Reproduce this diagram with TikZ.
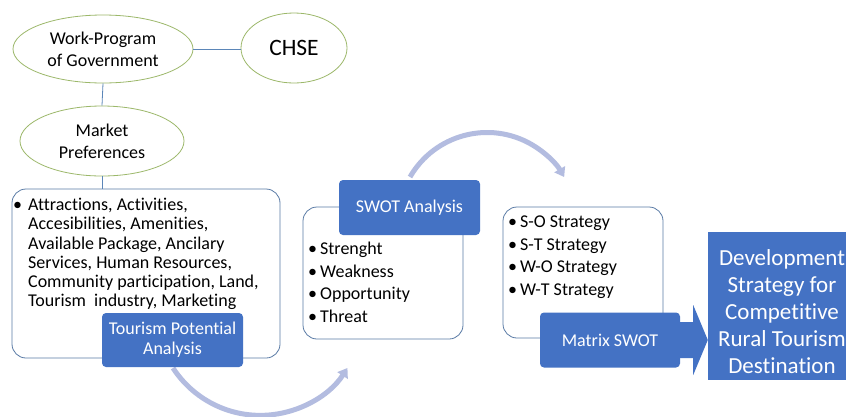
\documentclass[tikz,border=0pt]{standalone}
\usepackage{fontspec}
\setmainfont{Carlito}[Ligatures=NoCommon]
\usetikzlibrary{arrows.meta,shapes.geometric,calc}
\definecolor{blu}{HTML}{4472C4}
\definecolor{edge}{HTML}{5A7BA6}
\definecolor{olivec}{HTML}{9CB86A}
\definecolor{conn}{HTML}{5B86B8}
\definecolor{arcc}{HTML}{B3BCE0}
\begin{document}
\begin{tikzpicture}[x=1pt,y=-1pt,
 oval/.style={ellipse,draw=olivec,line width=0.8pt,fill=white,align=center,inner sep=0pt},
 frame/.style={rectangle,draw=edge,line width=0.8pt,rounded corners=14pt,fill=white,inner sep=0pt},
 head/.style={rectangle,fill=blu,rounded corners=4pt,text=white,align=center,inner sep=0pt,font=\fontsize{18}{20}\selectfont},
 listtext/.style={anchor=north west,inner sep=0pt,align=left},
 link/.style={draw=conn,line width=0.8pt},
 loopy/.style={draw=arcc,line width=5pt,-{Triangle[length=9pt,width=12pt]}},
 ]
\useasboundingbox (0,0) rectangle (846,416);
\fill[white] (0,0) rectangle (846,416);

% curved arrows
\coordinate (a1s) at (173,368);
\draw[loopy] (a1s) arc[start angle=213,end angle=327,radius=104pt];
\coordinate (a2s) at (410,177);
\draw[loopy] (a2s) arc[start angle=150,end angle=30,radius=89pt];

% ellipses
\node[oval,minimum width=180pt,minimum height=68pt,font=\fontsize{18}{22}\selectfont] (work) at (103,49) {Work-Program\\of Government};
\node[oval,minimum width=106pt,minimum height=70pt,font=\fontsize{23.5}{26}\selectfont] (chse) at (294,48) {CHSE};
\node[oval,minimum width=164pt,minimum height=70pt,font=\fontsize{18}{22}\selectfont] (market) at (102,141) {Market\\Preferences};

% box 1
\node[frame,minimum width=268pt,minimum height=169pt] (pot) at (146,273.5) {};
\node[listtext,font=\fontsize{18}{19.2}\selectfont] (potlist) at (13,197) {%
\begin{tabular}{@{}l@{\hspace{6pt}}l@{}}
•&Attractions, Activities,\\
&Accesibilities, Amenities,\\
&Available Package, Ancilary\\
&Services, Human Resources,\\
&Community participation, Land,\\
&Tourism\ \ industry, Marketing
\end{tabular}};
\node[head,minimum width=141pt,minimum height=54pt] (tpa) at (172.5,340) {Tourism Potential\\Analysis};

% box 2
\node[frame,minimum width=160pt,minimum height=132pt] (swotbox) at (383,273) {};
\node[head,minimum width=141pt,minimum height=55pt] (swot) at (409.5,207.5) {SWOT Analysis};
\node[listtext,font=\fontsize{18}{22.5}\selectfont] (swotlist) at (308,239) {%
\begin{tabular}{@{}l@{\hspace{3pt}}l@{}}
•&Strenght\\
•&Weakness\\
•&Opportunity\\
•&Threat
\end{tabular}};

% box 3
\node[frame,minimum width=160pt,minimum height=131pt] (stratbox) at (583,272.5) {};
\node[listtext,font=\fontsize{18}{22.5}\selectfont] (stratlist) at (508,212) {%
\begin{tabular}{@{}l@{\hspace{3pt}}l@{}}
•&S-O Strategy\\
•&S-T Strategy\\
•&W-O Strategy\\
•&W-T Strategy
\end{tabular}};
\node[head,minimum width=140pt,minimum height=55pt] (matrix) at (610,340) {Matrix SWOT};

% final box
\node[rectangle,fill=blu,minimum width=148pt,minimum height=148pt,inner sep=0pt] (final) at (782,306) {};
\node[text=white,align=center,inner sep=0pt,font=\fontsize{23}{27}\selectfont] (finaltext) at (782,312) {Development\\Strategy for\\Competitive\\Rural Tourism\\Destination};

% block arrow
\fill[blu] ($(matrix.east)+(0,-18)$) -- ++(13,0) -- ++(0,-17) -- (matrix.east -| final.west)
  -- ($(matrix.east)+(13,35)$) -- ++(0,-17) -- ($(matrix.east)+(0,18)$) -- cycle;

% links
\draw[link] (work.east) -- (work.east -| chse.west);
\draw[link] (work.south) -- (market.north);
\draw[link] (market.south) -- (market.south |- pot.north);
\end{tikzpicture}
\end{document}
